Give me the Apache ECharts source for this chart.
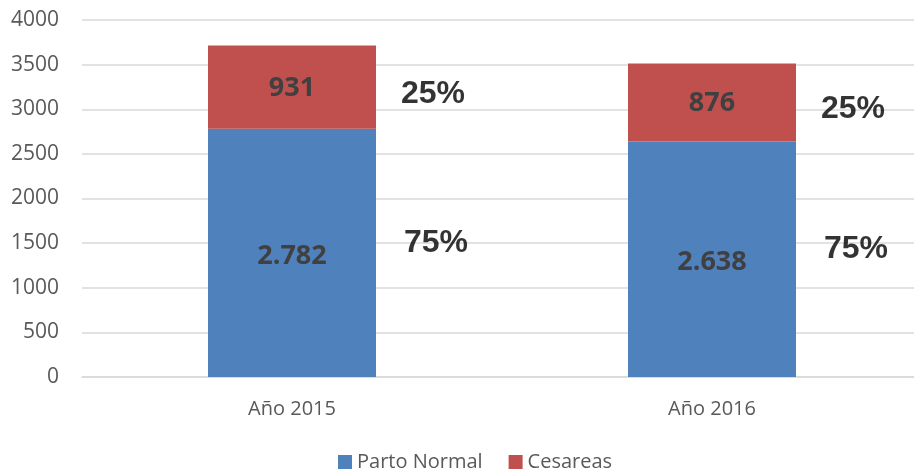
<!DOCTYPE html>
<html>
<head>
<meta charset="utf-8">
<script src="https://cdn.jsdelivr.net/npm/echarts@6/dist/echarts.min.js"></script>
<style>
    html, body { margin: 0; padding: 0; background: #fff; overflow: hidden; }
    #chart { width: 922px; height: 472px; }
</style>
</head>
<body>
<div id="chart"></div>
<script>
    // datos
    var categorias = ['Año 2015', 'Año 2016'];
    var partoNormal = [2782, 2638];
    var cesareas = [931, 876];
    var yTicks = [0, 500, 1000, 1500, 2000, 2500, 3000, 3500, 4000];

    var totales = partoNormal.map(function (v, i) { return v + cesareas[i]; });

    // punto medio de cada tramo, para colocar el porcentaje al lado
    var ptsNormal = partoNormal.map(function (v, i) {
        return [i, v / 2, Math.round(v / totales[i] * 100)];
    });
    var ptsCes = cesareas.map(function (v, i) {
        return [i, partoNormal[i] + v / 2, Math.round(v / totales[i] * 100)];
    });

    function miles(n) {
        var s = String(n);
        return s.replace(/\B(?=(\d{3})+(?!\d))/g, '.');
    }

    var font = '"Open Sans", "Liberation Sans", sans-serif';
    var fontPct = '"Liberation Sans", Arial, sans-serif';

    var myChart = echarts.init(document.getElementById('chart'));
    myChart.setOption({
        animation: false,
        textStyle: { fontFamily: font },
        grid: { left: 82, right: 0, top: 20, bottom: 95 },
        legend: {
            top: 447,
            left: 333,
            itemWidth: 14,
            itemHeight: 14,
            itemGap: 26,
            icon: 'rect',
            data: ['Parto Normal', 'Cesareas'],
            textStyle: { color: '#595959', fontSize: 20, fontFamily: font }
        },
        xAxis: {
            type: 'category',
            data: categorias,
            axisLine: { lineStyle: { color: '#d9d9d9', width: 1.5 } },
            axisTick: { show: false },
            axisLabel: { color: '#595959', fontSize: 20, margin: 22 }
        },
        yAxis: {
            type: 'value',
            min: yTicks[0],
            max: yTicks[yTicks.length - 1],
            interval: 500,
            axisLine: { show: false },
            axisTick: { show: false },
            splitLine: { lineStyle: { color: '#d9d9d9', width: 1.5 } },
            axisLabel: {
                color: '#595959',
                fontSize: 21,
                margin: 23,
                formatter: function (v) { return String(v); }
            }
        },
        series: [
            {
                name: 'Parto Normal',
                type: 'bar',
                stack: 'total',
                barWidth: 168,
                itemStyle: { color: '#4f81bd' },
                label: {
                    show: true,
                    position: 'inside',
                    color: '#404040',
                    fontSize: 27,
                    fontWeight: 'bold',
                    offset: [0, 3],
                    formatter: function (p) { return miles(p.value); }
                },
                data: partoNormal
            },
            {
                name: 'Cesareas',
                type: 'bar',
                stack: 'total',
                barWidth: 168,
                itemStyle: { color: '#c0504d' },
                label: {
                    show: true,
                    position: 'inside',
                    color: '#404040',
                    fontSize: 27,
                    fontWeight: 'bold',
                    offset: [0, 1],
                    formatter: function (p) { return miles(p.value); }
                },
                data: cesareas
            },
            {
                name: 'pctNormal',
                type: 'scatter',
                symbolSize: 0,
                silent: true,
                label: {
                    show: true,
                    position: 'inside',
                    offset: [144, -10],
                    color: '#000',
                    fontSize: 32,
                    fontWeight: 'bold',
                    fontFamily: fontPct,
                    formatter: function (p) { return p.value[2] + '%'; }
                },
                data: ptsNormal
            },
            {
                name: 'pctCes',
                type: 'scatter',
                symbolSize: 0,
                silent: true,
                label: {
                    show: true,
                    position: 'inside',
                    offset: [141, 7],
                    color: '#000',
                    fontSize: 32,
                    fontWeight: 'bold',
                    fontFamily: fontPct,
                    formatter: function (p) { return p.value[2] + '%'; }
                },
                data: ptsCes
            }
        ]
    });

    window.addEventListener('resize', function () {
        myChart.resize();
    });
</script>
</body>
</html>
